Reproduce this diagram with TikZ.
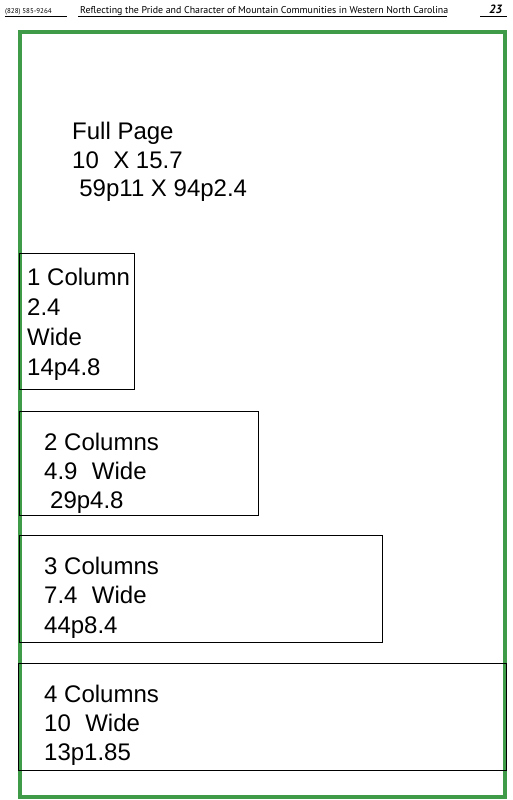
\documentclass[tikz,border=0pt]{standalone}
\usepackage{fontspec}
\setmainfont{Liberation Sans}
\newfontfamily\headfont{PT Sans}
\usetikzlibrary{positioning}
\definecolor{pagegreen}{HTML}{3F9B48}
\tikzset{
  adbox/.style   = {draw=black, line width=1pt},
  adtext/.style  = {anchor=north west, inner sep=0pt, align=left,
                    font=\fontsize{24}{29.5}\selectfont},
  headtxt/.style = {anchor=base west, inner sep=0pt, font=\headfont\fontsize{9.9}{11}\selectfont},
}

\begin{document}
\begin{tikzpicture}[x=1pt, y=-1pt]
\useasboundingbox (0,0) rectangle (513,800);

% Running head
\node (phone) [headtxt, font=\headfont\fontsize{7}{8}\selectfont] at (5,14) {(828) 585-9264};
\node (motto) [headtxt] at (80,14) {Reflecting the Pride and Character of Mountain Communities in Western North Carolina};
\node (folio) [headtxt, font=\headfont\bfseries\itshape\fontsize{12}{13}\selectfont] at (489,14) {23};
\draw [line width=0.6pt] (5,16.5) -- (67,16.5);
\draw [line width=0.6pt] (78,16.5) -- (447,16.5);
\draw [line width=0.6pt] (480,16.5) -- (507,16.5);

% Full page frame
\draw [pagegreen, line width=3.5pt] (20,32) rectangle (505,797);
\node (full) [adtext, font=\fontsize{24}{28.5}\selectfont] at (72,122)
  {Full Page\\10\hspace{0.6em}X 15.7\\\hspace{0.3em}59p11 X 94p2.4};

% Column boxes
\node (c1) [adbox, minimum width=115pt, minimum height=136pt, anchor=north west, inner sep=0pt] at (19,253) {};
\node (t1) [adtext, font=\fontsize{24}{30}\selectfont] at (27,267.5) {1 Column\\2.4\\Wide\\14p4.8};

\node (c2) [adbox, minimum width=239pt, minimum height=104pt, anchor=north west, inner sep=0pt] at (19,411) {};
\node (t2) [adtext, font=\fontsize{24}{29}\selectfont] at (44,432.5) {2 Columns\\4.9\hspace{0.6em}Wide\\\hspace{0.25em}29p4.8};

\node (c3) [adbox, minimum width=363pt, minimum height=107pt, anchor=north west, inner sep=0pt] at (19,535) {};
\node (t3) [adtext] at (44,556.5) {3 Columns\\7.4\hspace{0.6em}Wide\\44p8.4};

\node (c4) [adbox, minimum width=488pt, minimum height=107pt, anchor=north west, inner sep=0pt] at (18,663) {};
\node (t4) [adtext, font=\fontsize{24}{29}\selectfont] at (44,684.5) {4 Columns\\10\hspace{0.6em}Wide\\13p1.85};

\end{tikzpicture}
\end{document}
